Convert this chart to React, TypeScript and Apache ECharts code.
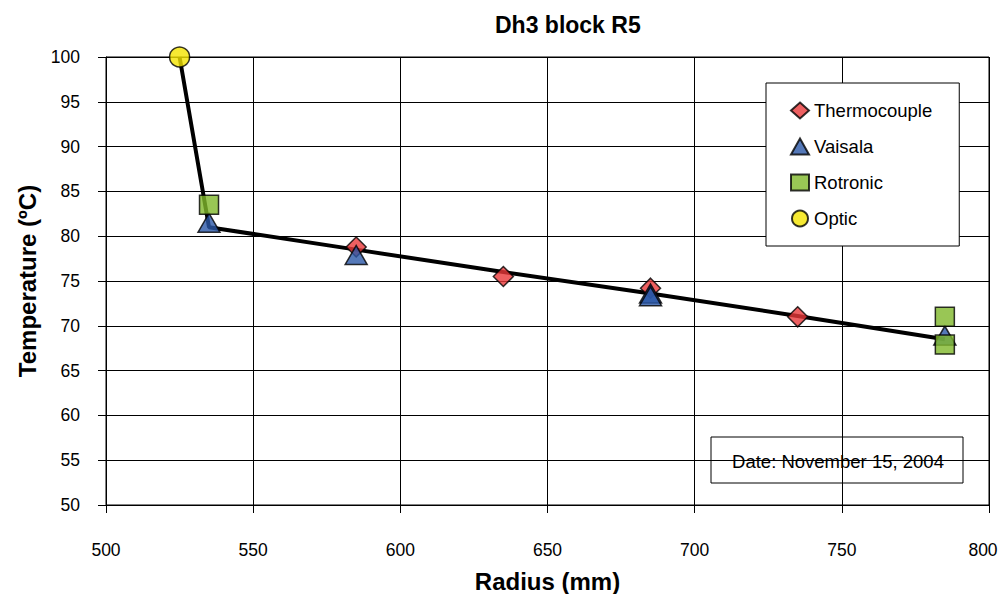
import React, { useEffect, useRef } from "react";
import * as echarts from "echarts";

const xTicks = [500, 550, 600, 650, 700, 750, 800];
const thermocouple: [number, number][] = [
  [585, 78.8],
  [635, 75.5],
  [685, 74.2],
  [735, 71.0],
];
const vaisala: [number, number][] = [
  [535, 81.5],
  [585, 77.9],
  [685, 73.6],
  [685, 73.3],
  [785, 68.9],
];
const rotronic: [number, number][] = [
  [535, 83.5],
  [785, 71.0],
  [785, 67.9],
];
const optic: [number, number][] = [[525, 100]];
const trend: [number, number][] = [
  [525, 100],
  [535, 81.0],
  [585, 78.5],
  [635, 76.0],
  [685, 73.6],
  [735, 71.1],
  [785, 68.5],
];

const FONT = "Liberation Sans, Arial, sans-serif";

export default function App() {
  const ref = useRef<HTMLDivElement>(null);
  useEffect(() => {
    document.body.style.margin = "0";
    const chart = echarts.init(ref.current!, null, { renderer: "svg" });
    const markerBorder = { borderColor: "#000", borderWidth: 1.5 };
    const xMax = xTicks[xTicks.length - 1];
    chart.setOption({
      animation: false,
      backgroundColor: "#fff",
      textStyle: { fontFamily: FONT },
      title: {
        text: "Dh3 block R5",
        left: 490,
        top: 8,
        textStyle: { fontSize: 23, fontWeight: "bold", color: "#000", fontFamily: FONT },
      },
      grid: {
        left: 106,
        right: 11,
        top: 57,
        bottom: 89,
        outerBoundsMode: "none",
        containLabel: false,
        show: true,
        borderColor: "#000",
        borderWidth: 1,
        backgroundColor: "#fff",
      },
      legend: {
        orient: "vertical",
        left: 766,
        top: 83,
        padding: [18, 27, 18, 24],
        itemGap: 17,
        itemWidth: 18,
        itemHeight: 16,
        backgroundColor: "#fff",
        borderColor: "#000",
        borderWidth: 1,
        borderRadius: 0,
        textStyle: { fontSize: 18.5, color: "#000", fontFamily: FONT },
        data: ["Thermocouple", "Vaisala", "Rotronic", "Optic"],
      },
      xAxis: {
        type: "value",
        min: xTicks[0],
        max: xMax,
        interval: 50,
        name: "Radius (mm)",
        nameLocation: "middle",
        nameGap: 64,
        nameTextStyle: { fontSize: 24, fontWeight: "bold", color: "#000", fontFamily: FONT },
        axisLine: { lineStyle: { color: "#000", width: 1 } },
        axisTick: { show: true, length: 8, lineStyle: { color: "#000" } },
        axisLabel: {
          fontSize: 17.5,
          color: "#000",
          margin: 36,
          fontFamily: FONT,
          formatter: (v: number) => (v === xMax ? `{last|${v}}` : `${v}`),
          rich: {
            last: { fontSize: 17.5, color: "#000", fontFamily: FONT, padding: [0, 12, 0, 0] },
          },
        },
        splitLine: { show: true, lineStyle: { color: "#000", width: 1 } },
      },
      yAxis: {
        type: "value",
        min: 50,
        max: 100,
        interval: 5,
        name: "Temperature (ºC)",
        nameLocation: "middle",
        nameRotate: 90,
        nameGap: 67,
        nameTextStyle: { fontSize: 24, fontWeight: "bold", color: "#000", fontFamily: FONT },
        axisLine: { show: true, lineStyle: { color: "#000", width: 1 } },
        axisTick: { show: true, length: 8, lineStyle: { color: "#000" } },
        axisLabel: { fontSize: 17.5, color: "#000", margin: 26, fontFamily: FONT },
        splitLine: { show: true, lineStyle: { color: "#000", width: 1 } },
      },
      graphic: [
        {
          type: "group",
          z: 100,
          children: [
            {
              type: "rect",
              shape: { x: 711, y: 437, width: 252, height: 46 },
              style: { fill: "#fff", stroke: "#000", lineWidth: 1 },
            },
            {
              type: "text",
              x: 838,
              y: 461,
              style: {
                text: "Date: November 15, 2004",
                fill: "#000",
                font: "18.5px " + FONT,
                textAlign: "center",
                textVerticalAlign: "middle",
              },
            },
          ],
        },
      ],
      series: [
        {
          type: "line",
          name: "trend",
          data: trend,
          symbol: "none",
          lineStyle: { color: "#000", width: 4 },
          z: 1,
          silent: true,
        },
        {
          type: "scatter",
          name: "Thermocouple",
          data: thermocouple,
          symbol: "diamond",
          symbolSize: 20,
          itemStyle: { color: "#e8383a", ...markerBorder },
          z: 2,
        },
        {
          type: "scatter",
          name: "Vaisala",
          data: vaisala,
          symbol: "triangle",
          symbolSize: [22, 19],
          itemStyle: { color: "#2b58a8", ...markerBorder },
          z: 3,
        },
        {
          type: "scatter",
          name: "Rotronic",
          data: rotronic,
          symbol: "rect",
          symbolSize: 19,
          itemStyle: { color: "#80b82a", ...markerBorder },
          z: 4,
        },
        {
          type: "scatter",
          name: "Optic",
          data: optic,
          symbol: "circle",
          symbolSize: 20,
          itemStyle: { color: "#f4e400", ...markerBorder },
          z: 5,
        },
      ],
    });
    return () => chart.dispose();
  }, []);
  return <div ref={ref} style={{ width: 1000, height: 594 }} />;
}
